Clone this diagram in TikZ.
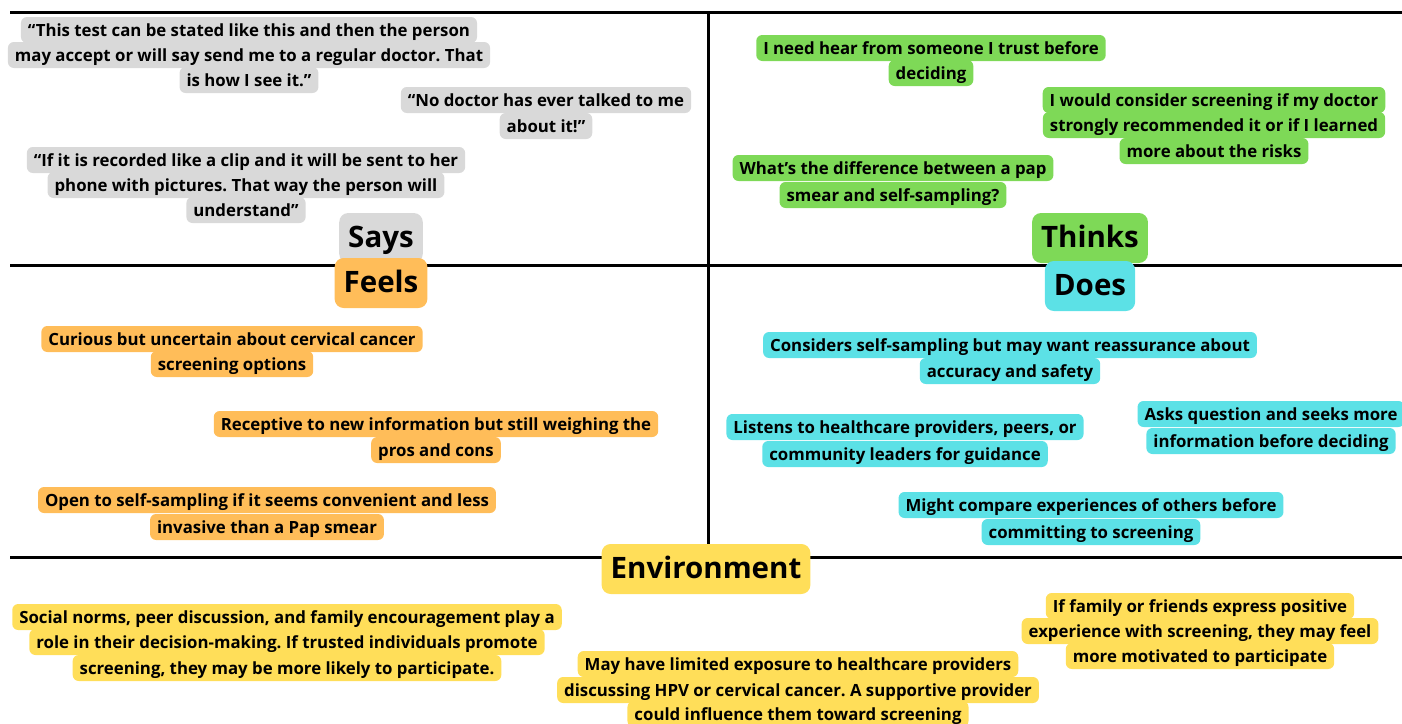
\documentclass[tikz,border=0pt]{standalone}
\usepackage{fontspec}
\setmainfont{Open Sans}
\frenchspacing
\definecolor{saysc}{HTML}{D9D9D9}
\definecolor{thinkc}{HTML}{7ED957}
\definecolor{feelc}{HTML}{FFBD59}
\definecolor{doesc}{HTML}{5CE1E6}
\definecolor{envc}{HTML}{FFDE59}
\tikzset{
  hl/.style={rounded corners=6pt, inner xsep=7pt, inner ysep=0pt, minimum height=26pt, text height=14.5pt, text depth=1.5pt, font=\fontsize{16.8}{20}\selectfont\bfseries\frenchspacing, text=black},
  head/.style={rounded corners=9pt, inner xsep=9pt, inner ysep=0pt, minimum height=50pt, text height=23pt, text depth=4pt, font=\fontsize{29.5}{33}\selectfont\bfseries, text=black},
  says/.style={hl, fill=saysc},
  thinks/.style={hl, fill=thinkc},
  feels/.style={hl, fill=feelc},
  does/.style={hl, fill=doesc},
  env/.style={hl, fill=envc},
  grid/.style={line width=3pt, black}
}
\begin{document}
\begin{tikzpicture}[x=1pt,y=-1pt]
\useasboundingbox (0,0) rectangle (1402,723);
% grid
\coordinate (tl) at (10,12);
\coordinate (tr) at (1402,12);
\coordinate (ml) at (10,265);
\coordinate (mr) at (1402,265);
\coordinate (bl) at (10,557);
\coordinate (br) at (1402,557);
\coordinate (vt) at (708,12);
\coordinate (vb) at (708,557);
\draw[grid] (tl) -- (tr);
\draw[grid] (ml) -- (mr);
\draw[grid] (bl) -- (br);
\draw[grid] (vt) -- (vb);
% Says
\node[says] (s1a) at (249,30) {“This test can be stated like this and then the person};
\node[says] (s1b) at (249,55) {may accept or will say send me to a regular doctor. That};
\node[says] (s1c) at (249,80) {is how I see it.”};
\node[says] (s2a) at (546,100) {“No doctor has ever talked to me};
\node[says] (s2b) at (546,126) {about it!”};
\node[says] (s3a) at (246,160) {“If it is recorded like a clip and it will be sent to her};
\node[says] (s3b) at (246,185) {phone with pictures. That way the person will};
\node[says] (s3c) at (246,210) {understand”};
\node[head, fill=saysc] (says) at (381,238) {Says};
% Thinks
\node[thinks] (t1a) at (931,48) {I need hear from someone I trust before};
\node[thinks] (t1b) at (931,73) {deciding};
\node[thinks] (t2a) at (1214,100) {I would consider screening if my doctor};
\node[thinks] (t2b) at (1214,125) {strongly recommended it or if I learned};
\node[thinks] (t2c) at (1214,151) {more about the risks};
\node[thinks] (t3a) at (893,168) {What’s the difference between a pap};
\node[thinks] (t3b) at (893,195) {smear and self-sampling?};
\node[head, fill=thinkc] (thinks) at (1090,238) {Thinks};
% Feels
\node[head, fill=feelc] (feels) at (381,283) {Feels};
\node[feels] (f1a) at (232,339) {Curious but uncertain about cervical cancer};
\node[feels] (f1b) at (232,364) {screening options};
\node[feels] (f2a) at (436,424) {Receptive to new information but still weighing the};
\node[feels] (f2b) at (436,450) {pros and cons};
\node[feels] (f3a) at (267,500) {Open to self-sampling if it seems convenient and less};
\node[feels] (f3b) at (267,527) {invasive than a Pap smear};
% Does
\node[head, fill=doesc] (does) at (1090,286) {Does};
\node[does] (d1a) at (1010,345) {Considers self-sampling but may want reassurance about};
\node[does] (d1b) at (1010,371) {accuracy and safety};
\node[does] (d2a) at (905,427) {Listens to healthcare providers, peers, or};
\node[does] (d2b) at (905,454) {community leaders for guidance};
\node[does] (d3a) at (1271,414) {Asks question and seeks more};
\node[does] (d3b) at (1271,441) {information before deciding};
\node[does] (d4a) at (1091,505) {Might compare experiences of others before};
\node[does] (d4b) at (1091,532) {committing to screening};
% Environment
\node[head, fill=envc] (envh) at (706,569) {Environment};
\node[env] (e1a) at (287,617) {Social norms, peer discussion, and family encouragement play a};
\node[env] (e1b) at (287,642) {role in their decision-making. If trusted individuals promote};
\node[env] (e1c) at (287,668) {screening, they may be more likely to participate.};
\node[env] (e2a) at (798,664) {May have limited exposure to healthcare providers};
\node[env] (e2b) at (798,690) {discussing HPV or cervical cancer. A supportive provider};
\node[env] (e2c) at (798,714) {could influence them toward screening};
\node[env] (e3a) at (1200,606) {If family or friends express positive};
\node[env] (e3b) at (1200,631) {experience with screening, they may feel};
\node[env] (e3c) at (1200,656) {more motivated to participate};
\end{tikzpicture}
\end{document}
